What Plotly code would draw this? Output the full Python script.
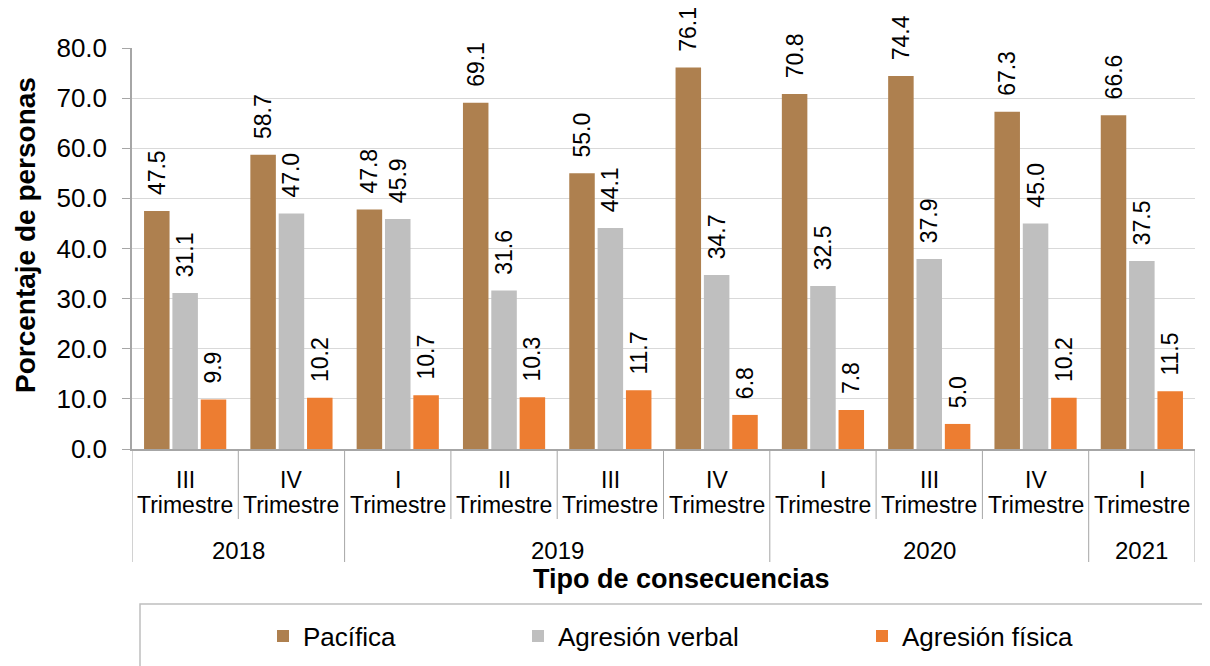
import plotly.graph_objects as go

years = ["2018", "2018", "2019", "2019", "2019", "2019", "2020", "2020", "2020", "2021"]
quarters = ["III", "IV", "I", "II", "III", "IV", "I", "III", "IV", "I"]
quarter_word = "Trimestre"
pacifica = [47.5, 58.7, 47.8, 69.1, 55.0, 76.1, 70.8, 74.4, 67.3, 66.6]
verbal = [31.1, 47.0, 45.9, 31.6, 44.1, 34.7, 32.5, 37.9, 45.0, 37.5]
fisica = [9.9, 10.2, 10.7, 10.3, 11.7, 6.8, 7.8, 5.0, 10.2, 11.5]

series_names = ["Pacífica", "Agresión verbal", "Agresión física"]
colors = ["#AE804F", "#BFBFBF", "#ED7D31"]
legend_ids = ["legend", "legend2", "legend3"]

FONT = "Arial, Liberation Sans, sans-serif"
idx = list(range(len(quarters)))

fig = go.Figure()
for name, vals, col, lg in zip(series_names, [pacifica, verbal, fisica], colors, legend_ids):
    fig.add_trace(go.Bar(
        x=idx, y=vals, name=name, marker=dict(color=col, line=dict(width=0)),
        text=[f"\u00a0\u00a0{v:.1f}" for v in vals], textposition="outside",
        textangle=-90, constraintext="none", cliponaxis=False,
        textfont=dict(family=FONT, size=23, color="#000000"),
        legend=lg,
    ))

# geometry: the page body adds an 8px offset, so the figure is 8px smaller
OFF = 8
W, H = 1210 - OFF, 666 - OFF
ml, mr, mt = 132 - OFF, 15, 48 - OFF
ph = 401
mb = H - mt - ph
def py(p):
    return (H - mb - (p - OFF)) / ph
def px(p):
    return (p - OFF - ml) / (W - ml - mr)

# category separators
shapes = []
year_bounds = [-0.5]
for i in range(1, len(years)):
    if years[i] != years[i - 1]:
        year_bounds.append(i - 0.5)
year_bounds.append(len(years) - 0.5)
for i in range(len(years) + 1):
    b = i - 0.5
    y1 = py(562) if b in year_bounds else py(519)
    shapes.append(dict(type="line", xref="x", yref="paper", x0=b, x1=b, y0=0, y1=y1,
                       line=dict(color="#A6A6A6", width=1)))
# legend box
shapes.append(dict(type="rect", xref="paper", yref="paper", x0=px(140), x1=px(1207),
                   y0=py(604), y1=py(672), line=dict(color="#BFBFBF", width=1.5),
                   fillcolor="rgba(0,0,0,0)"))

annotations = []
for i, q in enumerate(quarters):
    annotations.append(dict(text=q, xref="x", yref="paper", x=i, y=py(480),
                            showarrow=False, font=dict(family=FONT, size=23, color="#000000"),
                            xanchor="center", yanchor="middle"))
    annotations.append(dict(text=quarter_word, xref="x", yref="paper", x=i, y=py(505),
                            showarrow=False, font=dict(family=FONT, size=23, color="#000000"),
                            xanchor="center", yanchor="middle"))
for k in range(len(year_bounds) - 1):
    mid = (year_bounds[k] + year_bounds[k + 1]) / 2
    yr = years[int(year_bounds[k] + 0.5)]
    annotations.append(dict(text=yr, xref="x", yref="paper", x=mid, y=py(550),
                            showarrow=False, font=dict(family=FONT, size=24, color="#000000"),
                            xanchor="center", yanchor="middle"))
annotations.append(dict(text="<b>Tipo de consecuencias</b>", xref="paper", yref="paper",
                        x=px(681), y=py(579), showarrow=False,
                        font=dict(family=FONT, size=27, color="#000000"),
                        xanchor="center", yanchor="middle"))
annotations.append(dict(text="<b>Porcentaje de personas</b>", xref="paper", yref="paper",
                        x=px(25), y=py(235), showarrow=False, textangle=-90,
                        font=dict(family=FONT, size=28, color="#000000"),
                        xanchor="center", yanchor="middle"))

legend_x = [263, 518, 862]
legend_cfg = {}
for lg, lx in zip(legend_ids, legend_x):
    legend_cfg[lg] = dict(orientation="h", x=px(lx), y=py(636), xanchor="left",
                          yanchor="middle", font=dict(family=FONT, size=26, color="#000000"),
                          bgcolor="rgba(0,0,0,0)")

fig.update_layout(
    width=W, height=H,
    margin=dict(l=ml, r=mr, t=mt, b=mb, autoexpand=False),
    paper_bgcolor="white", plot_bgcolor="white",
    barmode="group", bargap=0.2, bargroupgap=0.1,
    font=dict(family=FONT, color="#000000"),
    shapes=shapes, annotations=annotations,
    showlegend=True,
    **legend_cfg,
)
fig.update_xaxes(
    range=[-0.5, len(quarters) - 0.5], showticklabels=False,
    showgrid=False, showline=True, linecolor="#A6A6A6", linewidth=1.5, ticks="",
    zeroline=False,
)
fig.update_yaxes(
    range=[0, 80], dtick=10, tickformat=".1f", showgrid=True, gridcolor="#D9D9D9",
    gridwidth=1.3, showline=True, linecolor="#A6A6A6", linewidth=1.5, ticks="outside",
    ticklen=8, tickcolor="#A6A6A6", tickfont=dict(family=FONT, size=26, color="#000000"),
    zeroline=False, ticklabelstandoff=10,
)

fig.write_html("out.html")
